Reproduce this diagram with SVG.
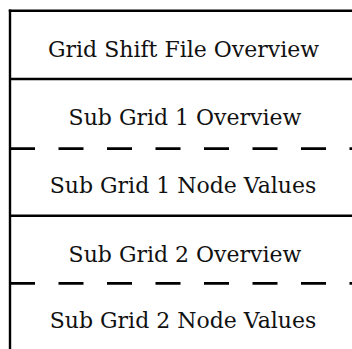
<svg xmlns="http://www.w3.org/2000/svg" width="352" height="349" viewBox="0 0 352 349">
<style>
.solid{stroke:#000;stroke-width:2.4;fill:none}
.dash{stroke:#000;stroke-width:2.8;fill:none;stroke-dasharray:25 23.5}
.lbl{font-family:"DejaVu Serif",serif;font-size:22px;fill:#111;text-anchor:middle}
</style>
<rect width="352" height="349" fill="#fff"/>
<g id="connectors">
<line class="solid" x1="10" y1="9.6" x2="10" y2="349"/>
<line class="solid" x1="8.8" y1="10.8" x2="352" y2="10.8"/>
<line class="solid" x1="9" y1="79" x2="352" y2="79"/>
<line class="dash" x1="10" y1="148.7" x2="352" y2="148.7"/>
<line class="solid" x1="9" y1="215.7" x2="352" y2="215.7"/>
<line class="dash" x1="10" y1="283.3" x2="352" y2="283.3"/>
</g>
<g id="header"><text class="lbl" x="183.5" y="57">Grid Shift File Overview</text></g>
<g id="sub1-overview"><text class="lbl" x="185" y="125">Sub Grid 1 Overview</text></g>
<g id="sub1-nodes"><text class="lbl" x="183" y="192.7">Sub Grid 1 Node Values</text></g>
<g id="sub2-overview"><text class="lbl" x="185" y="261.7">Sub Grid 2 Overview</text></g>
<g id="sub2-nodes"><text class="lbl" x="183" y="328">Sub Grid 2 Node Values</text></g>
</svg>
